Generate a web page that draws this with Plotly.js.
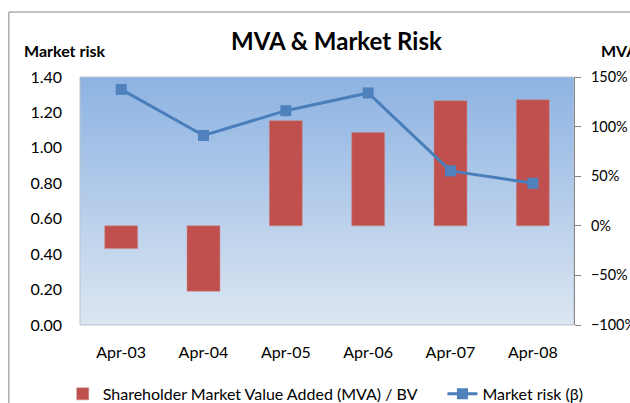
<!DOCTYPE html>
<html>
<head>
<meta charset="utf-8">
<script src="https://cdn.plot.ly/plotly-3.0.1.min.js"></script>
<style>html,body{margin:0;padding:0;background:#fff;}#chart{width:630px;height:403px;}</style>
</head>
<body>
<div id="chart"></div>
<script>
const categories = ["Apr-03", "Apr-04", "Apr-05", "Apr-06", "Apr-07", "Apr-08"];
const mvaValues = [-0.23, -0.66, 1.06, 0.94, 1.26, 1.27];
const marketRisk = [1.33, 1.07, 1.21, 1.31, 0.87, 0.80];
const leftTicks = [0, 0.2, 0.4, 0.6, 0.8, 1.0, 1.2, 1.4];
const rightTicks = [-1, -0.5, 0, 0.5, 1, 1.5];

const FONT = "Lato, 'Open Sans', sans-serif";
const PAD = "\u00A0\u00A0\u00A0\u00A0\u00A0";

const gradSvg = "<svg xmlns='http://www.w3.org/2000/svg' width='100' height='100' viewBox='0 0 100 100' preserveAspectRatio='none'>" +
  "<defs><linearGradient id='g' x1='0' y1='0' x2='0' y2='1'>" +
  "<stop offset='0' stop-color='#8DB3E2'/><stop offset='1' stop-color='#DCE6F2'/>" +
  "</linearGradient></defs><rect x='0' y='0' width='100' height='100' fill='url(#g)'/></svg>";
const gradUri = "data:image/svg+xml;charset=utf-8," + encodeURIComponent(gradSvg);

const traces = [
  {
    type: "bar",
    name: "Shareholder Market Value Added (MVA) / BV" + PAD,
    x: categories,
    y: mvaValues,
    yaxis: "y",
    width: 0.4,
    marker: {color: "#C0504D", line: {color: "#C98A88", width: 0.5}}
  },
  {
    type: "scatter",
    mode: "lines+markers",
    name: "Market risk (β)",
    x: categories,
    y: marketRisk,
    yaxis: "y2",
    line: {color: "#4A7EBB", width: 3},
    marker: {symbol: "square", size: 11, color: "#4F81BD"}
  }
];

const layout = {
  width: 630,
  height: 403,
  margin: {l: 80, r: 56, t: 77, b: 78, autoexpand: false},
  paper_bgcolor: "#ffffff",
  plot_bgcolor: "rgba(0,0,0,0)",
  font: {family: FONT, size: 16, color: "#000"},
  title: {
    text: "<b>MVA &amp; Market Risk</b>",
    font: {family: FONT, size: 24, color: "#000"},
    x: 0.519, xanchor: "center", xref: "paper",
    y: 0.898, yanchor: "middle", yref: "container"
  },
  showlegend: true,
  legend: {
    orientation: "h",
    x: -0.035, xanchor: "left",
    y: -0.278, yanchor: "middle",
    font: {family: FONT, size: 16, color: "#000"},
    bgcolor: "rgba(0,0,0,0)",
    itemwidth: 30,
    traceorder: "normal",
    tracegroupgap: 0
  },
  xaxis: {
    type: "category",
    range: [-0.5, 5.5],
    showgrid: false,
    zeroline: false,
    showline: false,
    ticks: "",
    ticklabelstandoff: 16,
    tickfont: {family: FONT, size: 16, color: "#000"},
    fixedrange: true
  },
  yaxis: {
    side: "right",
    range: [-1, 1.5],
    tickvals: rightTicks,
    tickformat: ".0%",
    showgrid: false,
    zeroline: false,
    showline: true,
    linecolor: "#868686",
    linewidth: 1,
    ticks: "outside",
    ticklen: 6,
    tickcolor: "#868686",
    ticklabelstandoff: 7,
    tickfont: {family: FONT, size: 14.5, color: "#000"},
    fixedrange: true
  },
  yaxis2: {
    overlaying: "y",
    side: "left",
    range: [0, 1.4],
    tickvals: leftTicks,
    tickformat: ".2f",
    showgrid: false,
    zeroline: false,
    showline: false,
    ticks: "",
    ticklabelstandoff: 17,
    tickfont: {family: FONT, size: 16, color: "#000"},
    fixedrange: true
  },
  images: [{
    source: gradUri,
    xref: "paper", yref: "paper",
    x: 0, y: 1, sizex: 1, sizey: 1,
    xanchor: "left", yanchor: "top",
    sizing: "stretch",
    layer: "below"
  }],
  shapes: [
    {type: "rect", xref: "paper", yref: "paper", x0: 0, x1: 1, y0: 0, y1: 1,
     line: {color: "#B9C3D0", width: 1}, fillcolor: "rgba(0,0,0,0)", layer: "below"},
    {type: "rect", xref: "paper", yref: "paper", x0: -0.144, x1: 1.5, y0: -0.6, y1: 1.262,
     line: {color: "#868686", width: 1}, fillcolor: "rgba(0,0,0,0)", layer: "below"}
  ],
  annotations: [
    {text: "<b>Market risk</b>", xref: "paper", yref: "paper",
     x: -0.117, xanchor: "left", y: 1.105, yanchor: "middle",
     showarrow: false, font: {family: FONT, size: 16, color: "#000"}},
    {text: "<b>MVA</b>", xref: "paper", yref: "paper",
     x: 1.05, xanchor: "left", y: 1.105, yanchor: "middle",
     showarrow: false, font: {family: FONT, size: 16, color: "#000"}}
  ]
};

Plotly.newPlot("chart", traces, layout, {displayModeBar: false, staticPlot: true});
</script>
</body>
</html>
